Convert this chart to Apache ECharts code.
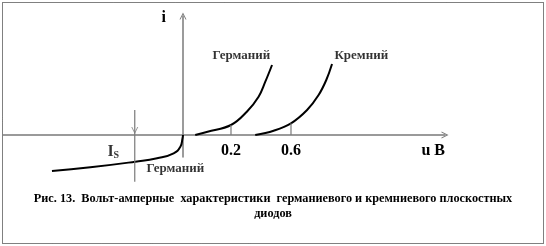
<!DOCTYPE html>
<html>
<head>
<meta charset="utf-8">
<script src="https://cdn.jsdelivr.net/npm/echarts@6/dist/echarts.min.js"></script>
<style>html,body{margin:0;padding:0;background:#fff}#c{width:546px;height:246px}</style>
</head>
<body>
<div id="c"></div>
<script>
// schematic axis units (picture is not to scale)
const xTickValues = [0.2, 0.45];
const xTickLabels = ['0.2', '0.6'];
const geForward = [[0.051,0],[0.1025,0.33],[0.2,1.0],[0.266,2.33],[0.315,3.83],[0.343,5.33],[0.371,7.0]];
const siForward = [[0.301,0],[0.3775,0.43],[0.45,1.17],[0.517,2.5],[0.565,4.0],[0.597,5.5],[0.621,7.1]];
const geReverse = [[-0.546,-3.6],[-0.386,-3.23],[-0.199,-2.67],[-0.108,-2.33],[-0.039,-1.83],[-0.011,-1.17],[-0.002,-0.33],[0,0]];
const isLine = [[-0.201,2.5],[-0.201,-4.67]];
const isArrow = [[-0.201,0.45]];
const drop02 = [[0.2,0],[0.2,1.0]];
const drop06 = [[0.45,0],[0.45,1.17]];
const curveLabels = ['Германий', 'Кремний', 'Германий'];
const curveLabelPoints = [[0.243,7.9],[0.743,7.9],[-0.032,-3.4]];
const isLabelParts = ['I', 'S'];
const isLabelPoints = [[-0.302,-1.65],[-0.278,-2.0]];
const captionLines = ['Рис. 13.  Вольт-амперные  характеристики  германиевого и кремниевого плоскостных', 'диодов'];

const serif = 'Liberation Serif';
const axisGrey = '#7a7a7a';
const chevron = 'path://M0,10 L5,0 L10,10 L8.6,10 L5,3 L1.4,10 Z';

const chart = echarts.init(document.getElementById('c'), null, {renderer: 'canvas'});
chart.setOption({
  animation: false,
  backgroundColor: '#fff',
  grid: {left: 3, right: 101, top: 16, bottom: 89, containLabel: false},
  xAxis: {
    type: 'value', min: -0.75, max: 1.0917,
    axisLine: {onZero: true, symbol: ['none', chevron], symbolSize: [7, 7], lineStyle: {color: axisGrey, width: 1.5}},
    axisTick: {show: false},
    splitLine: {show: false},
    axisLabel: {
      customValues: xTickValues,
      formatter: v => { const i = xTickValues.findIndex(t => Math.abs(t - v) < 1e-6); return i >= 0 ? xTickLabels[i] : ''; },
      margin: -14, fontFamily: serif, fontWeight: 'bold', fontSize: 16, color: '#000'
    },
    name: 'u B', nameLocation: 'end', nameGap: 0,
    nameTextStyle: {fontFamily: serif, fontWeight: 'bold', fontSize: 16, color: '#000', align: 'right', verticalAlign: 'top', padding: [8, 0, 0, 0]}
  },
  yAxis: {
    type: 'value', min: -2.2, max: 11.9,
    axisLine: {onZero: true, symbol: ['none', chevron], symbolSize: [7, 7], lineStyle: {color: axisGrey, width: 1.5}},
    axisTick: {show: false}, axisLabel: {show: false}, splitLine: {show: false},
    name: 'i', nameLocation: 'end', nameGap: -2,
    nameTextStyle: {fontFamily: serif, fontWeight: 'bold', fontSize: 16, color: '#000', align: 'right', verticalAlign: 'middle', padding: [0, 17, 0, 0]}
  },
  graphic: [
    {type: 'rect', silent: true,
     shape: {x: 2.5, y: 2.5, width: 541, height: 241},
     style: {fill: 'none', stroke: '#000', lineWidth: 1, lineDash: [1, 1]}},
    {type: 'text', silent: true, x: 273, y: 191.5,
     style: {text: captionLines.join('\n'), align: 'center', verticalAlign: 'top', lineHeight: 15,
             font: 'bold 12.25px "Liberation Serif"', fill: '#000'}}
  ],
  series: [
    {type: 'line', data: geForward, smooth: 0.4, showSymbol: false, clip: false, lineStyle: {color: '#000', width: 2}},
    {type: 'line', data: siForward, smooth: 0.4, showSymbol: false, clip: false, lineStyle: {color: '#000', width: 2}},
    {type: 'line', data: geReverse, smooth: true, showSymbol: false, clip: false, lineStyle: {color: '#000', width: 2}},
    {type: 'line', data: isLine, showSymbol: false, clip: false, lineStyle: {color: axisGrey, width: 1.2}},
    {type: 'line', data: drop02, showSymbol: false, clip: false, lineStyle: {color: axisGrey, width: 1.2}},
    {type: 'line', data: drop06, showSymbol: false, clip: false, lineStyle: {color: axisGrey, width: 1.2}},
    {type: 'scatter', data: isArrow, symbol: chevron, symbolSize: [7, 7], symbolRotate: 180, clip: false, itemStyle: {color: axisGrey}},
    {type: 'scatter', clip: false, symbolSize: 0,
     data: curveLabelPoints.map((p, i) => ({value: p, label: {formatter: curveLabels[i]}})),
     label: {show: true, position: 'inside', fontFamily: serif, fontWeight: 'bold', fontSize: 13, color: '#000'}},
    {type: 'scatter', clip: false, symbolSize: 0,
     data: isLabelPoints.map((p, i) => ({value: p, label: {formatter: isLabelParts[i], fontSize: i === 0 ? 16 : 10}})),
     label: {show: true, position: 'inside', fontFamily: serif, fontWeight: 'bold', color: '#000'}}
  ]
});
</script>
</body>
</html>
